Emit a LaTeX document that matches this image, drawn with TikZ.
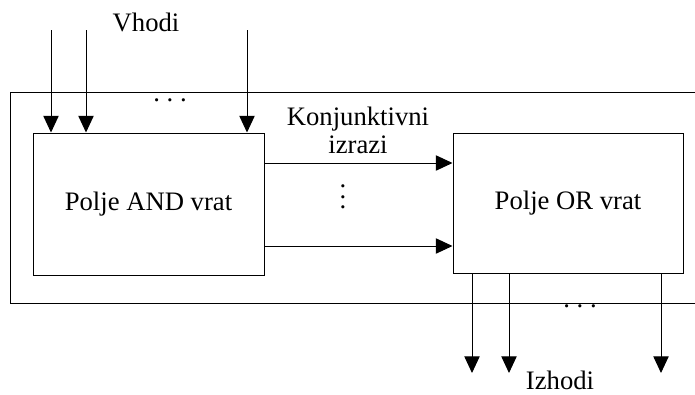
\documentclass[tikz,border=0pt]{standalone}
\usepackage{fontspec}
\setmainfont{Liberation Serif}
\usepackage{tikz}
\usetikzlibrary{positioning,arrows.meta}

% dots with wider gaps than the font's own ellipsis
\newcommand{\rowdots}{.\kern5pt.\kern5pt.}
\newcommand{\coldots}{\vbox{\baselineskip=8pt\lineskiplimit=0pt\hbox{.}\hbox{.}\hbox{.}}}

\begin{document}
\begin{tikzpicture}[x=0.75pt, y=-0.75pt, line width=0.75pt,
        every node/.style={font=\fontsize{20}{26}\selectfont},
        >={Triangle[length=12.5pt, width=11.5pt]}]
            \useasboundingbox (0,0) rectangle (695,394);

            % outer frame, open on the right
            \draw (695,92) -- (10,92) -- (10,303) -- (695,303);

            \node[draw, minimum width = 173.25pt, minimum height = 106.5pt, inner sep=0pt] (andbox) at (148.5,204) {Polje AND vrat};
            \node[draw, minimum width = 172.5pt, minimum height = 105pt, inner sep=0pt] (orbox) at (568,203) {Polje OR vrat};

            \node (vhodi) at (146,22) {Vhodi};
            \node (izhodi) at (560,380) {Izhodi};
            \node[align=center, font=\fontsize{20}{21}\selectfont] (izrazi) at (358,130) {Konjunktivni\\izrazi};

            \node (indots) at (170,100) {\rowdots};
            \node (outdots) at (580,306) {\rowdots};
            \node (vdots) at (343,197) {\coldots};

            % inputs into the AND plane
            \foreach \x in {51,86,247} {
                \coordinate (in\x) at (\x,30);
                \draw[->] (in\x) -- (in\x |- andbox.north);
            }

            % terms from AND to OR
            \draw[->] (andbox.east |- 0,163) -- (orbox.west |- 0,163);
            \draw[->] (andbox.east |- 0,246) -- (orbox.west |- 0,246);

            % outputs of the OR plane
            \foreach \x in {472,509,661} {
                \coordinate (out\x) at (\x,373);
                \draw[->] (out\x |- orbox.south) -- (out\x);
            }
        \end{tikzpicture}
\end{document}
